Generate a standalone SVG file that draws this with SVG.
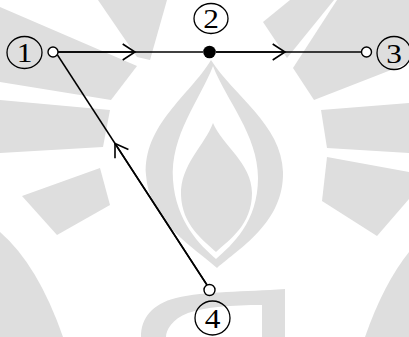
<svg xmlns="http://www.w3.org/2000/svg" width="409" height="337" viewBox="0 0 409 337">
<defs>
<style>
.wm{fill:#dedede;stroke:none}
.wh{fill:#ffffff;stroke:none}
.edge{stroke:#000;stroke-width:1.5;fill:none}
.lbl{fill:none;stroke:#000;stroke-width:1.3}
.port{fill:#fff;stroke:#000;stroke-width:1.4}
.txt{font-family:"Liberation Serif","Times New Roman",serif;font-size:28px;fill:#000;text-anchor:middle}
</style>
<marker id="arr" viewBox="-14 -9 16 18" refX="0" refY="0" markerWidth="16" markerHeight="18" markerUnits="userSpaceOnUse" orient="auto">
<path d="M-12.3,-8 L0,0 L-12.3,8" fill="none" stroke="#000" stroke-width="1.6"/>
</marker>
</defs>
<rect width="409" height="337" fill="#fff"/>
<g id="watermark">
<polygon class="wm" points="0,7 137,66 111,100 0,82"/>
<polygon class="wm" points="98,0 167,0 150,60 137,57"/>
<polygon class="wm" points="0,100 110,110 103,147 0,153"/>
<polygon class="wm" points="22,196 100,168 110,205 57,235"/>
<path class="wm" d="M0,232 Q38,265 63,337 L0,337 Z"/>
<polygon class="wm" points="290,0 334,0 287,58 263,22"/>
<polygon class="wm" points="337,0 409,0 409,63 314,100 293,68"/>
<polygon class="wm" points="321,110 409,103 409,153 327,148"/>
<polygon class="wm" points="327,157 409,172 409,199 377,236 322,201"/>
<path class="wm" d="M428,232 Q390,265 365,337 L428,337 Z"/>
<path class="wm" d="M211,60 C190,95 143,125 146,175 C149,222 195,248 217,268 C240,248 284,222 283,172 C282,125 233,95 211,60 Z"/>
<path class="wh" d="M213,66 C200,100 170,135 173,180 C176,222 200,245 216,259 C232,245 258,222 258,178 C258,135 226,100 213,66 Z"/>
<path class="wm" d="M213,123 C205,145 180,165 181,195 C182,225 203,240 216,252 C229,240 252,225 252,193 C252,163 222,145 213,123 Z"/>
<path class="wm" d="M141,337 C141,318 152,304 176,298 C205,291 245,292 285,289 L285,337 L262,337 L262,305 C232,305 205,307 188,313 C172,319 166,330 166,337 Z"/>
</g>
<g id="connectors">
<line class="edge" x1="58" y1="52" x2="203" y2="52"/>
<line class="edge" x1="58" y1="52" x2="135" y2="52" marker-end="url(#arr)"/>
<line class="edge" x1="216" y1="52" x2="361" y2="52"/>
<line class="edge" x1="216" y1="52" x2="285" y2="52" marker-end="url(#arr)"/>
<line class="edge" x1="207" y1="285" x2="57.5" y2="55"/>
<line class="edge" x1="207" y1="285" x2="115" y2="143.5" marker-end="url(#arr)"/>
</g>
<g id="node1">
<ellipse class="lbl" cx="24.5" cy="52.5" rx="17.5" ry="16"/>
<text class="txt" transform="translate(24.5,62) scale(1.12,1)">1</text>
<circle class="port" cx="53" cy="52" r="5"/>
</g>
<g id="node2">
<ellipse class="lbl" cx="211" cy="18.5" rx="17" ry="15"/>
<text class="txt" transform="translate(211,28) scale(1.12,1)">2</text>
<circle cx="209.5" cy="52" r="6.3" fill="#000"/>
</g>
<g id="node3">
<ellipse class="lbl" cx="394" cy="53" rx="17" ry="16.5"/>
<text class="txt" transform="translate(394,62.5) scale(1.12,1)">3</text>
<circle class="port" cx="366.5" cy="52" r="5"/>
</g>
<g id="node4">
<ellipse class="lbl" cx="212.5" cy="318" rx="17.5" ry="17"/>
<text class="txt" transform="translate(212.5,327.5) scale(1.12,1)">4</text>
<circle class="port" cx="209.5" cy="290" r="5.5"/>
</g>
</svg>
